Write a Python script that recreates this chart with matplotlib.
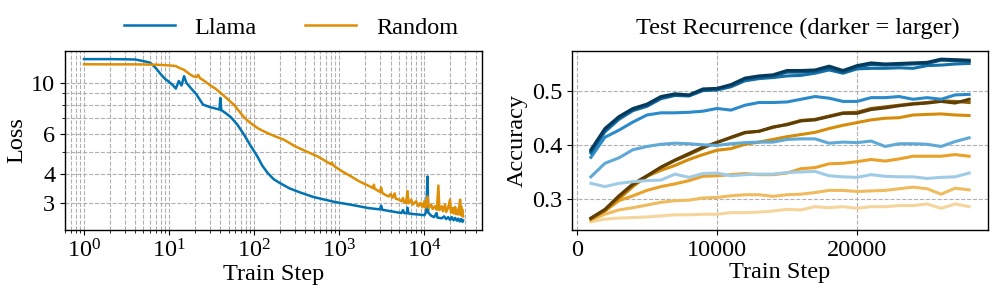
import matplotlib
matplotlib.use("Agg")
import matplotlib.pyplot as plt
from matplotlib.ticker import NullFormatter

plt.rcParams['font.family'] = ['Liberation Serif', 'DejaVu Serif']
plt.rcParams['mathtext.fontset'] = 'stix'
plt.rcParams['font.size'] = 17.5

# ---- left panel: training loss ----
llama_steps = [1, 2, 3, 4, 5, 6, 7, 8, 9, 10, 11, 12, 13, 14, 15, 16, 18, 21, 25, 30,
               34, 39, 40, 41, 47, 53, 63, 76, 90, 109, 125, 144, 170, 206, 260, 355,
               500, 877, 1400, 2177, 3000, 3100, 3200, 4000, 5374, 5600, 5800, 6200,
               6330, 6500, 7500, 8500, 9500, 10000, 10500, 10900, 11100, 12000, 13000,
               13900, 14200, 16000, 17000, 18000, 19000, 20000, 21000, 22000, 23000,
               24000, 25000, 26000, 27000, 28000, 28500]
llama_loss = [12.7, 12.7, 12.68, 12.65, 12.45, 12.25, 11.6, 10.9, 10.4, 10.1, 9.8, 9.45,
              10.2, 9.75, 10.7, 10.0, 9.5, 8.9, 8.05, 7.85, 7.76, 7.65, 8.6, 7.62, 7.35,
              7.1, 6.6, 5.95, 5.35, 4.78, 4.35, 4.05, 3.8, 3.64, 3.47, 3.32, 3.18, 3.03,
              2.94, 2.85, 2.81, 2.92, 2.8, 2.76, 2.71, 2.79, 2.71, 2.7, 2.86, 2.7, 2.68,
              2.67, 2.66, 2.65, 2.74, 3.91, 2.72, 2.64, 2.6, 2.71, 2.59, 2.57, 2.62, 2.55,
              2.6, 2.53, 2.6, 2.52, 2.58, 2.51, 2.56, 2.49, 2.55, 2.48, 2.52]

random_steps = [1, 2, 4, 6, 8, 10, 12, 13, 15, 17, 19, 21, 22, 23, 26, 30, 35, 40, 48,
                58, 70, 80, 91, 110, 131, 170, 225, 300, 400, 558, 700, 800, 820, 840,
                877, 1100, 1380, 1700, 2177, 2500, 2550, 2600, 3000, 3100, 3200, 3420,
                3800, 4000, 4200, 4480, 4600, 5000, 5374, 5600, 5800, 6100, 6330, 6500,
                7000, 7300, 8000, 8500, 9000, 9500, 10000, 10300, 10900, 11200, 12000,
                12500, 13300, 14000, 14600, 15000, 16000, 16500, 17500, 18000, 19000,
                20000, 20500, 21500, 22000, 23000, 23500, 24500, 25000, 26300, 26600,
                27000, 27500, 28000, 28500]
random_loss = [12.06, 12.05, 12.05, 12.02, 11.98, 11.92, 11.85, 11.65, 11.4, 11.0, 10.7,
               10.6, 10.85, 10.5, 10.2, 9.8, 9.45, 9.07, 8.55, 8.02, 7.35, 6.95, 6.68,
               6.35, 6.14, 5.88, 5.65, 5.3, 5.05, 4.78, 4.55, 4.42, 4.5, 4.4, 4.33, 4.1,
               3.91, 3.73, 3.57, 3.48, 3.6, 3.46, 3.35, 3.5, 3.32, 3.26, 3.2, 3.28, 3.16,
               3.3, 3.13, 3.1, 3.05, 3.15, 3.02, 3.0, 3.38, 2.99, 3.1, 2.95, 3.05, 2.9,
               3.0, 2.87, 3.05, 2.86, 3.2, 2.85, 2.95, 2.82, 2.9, 2.8, 3.57, 2.79, 2.9,
               2.76, 2.95, 2.74, 2.85, 3.1, 2.72, 2.85, 2.7, 2.88, 2.68, 2.8, 2.67, 3.1,
               2.66, 2.9, 2.64, 2.8, 2.62]

# ---- right panel: test accuracy per recurrence (light -> dark) ----
eval_steps = [1000 * i for i in range(1, 29)]

llama_acc = [
    [0.329, 0.323, 0.329, 0.332, 0.334, 0.335, 0.346, 0.340, 0.347, 0.348, 0.343, 0.345,
     0.346, 0.346, 0.349, 0.350, 0.351, 0.343, 0.341, 0.340, 0.345, 0.342, 0.341, 0.341,
     0.338, 0.340, 0.341, 0.348],
    [0.341, 0.366, 0.376, 0.391, 0.397, 0.401, 0.403, 0.402, 0.400, 0.399, 0.402, 0.404,
     0.405, 0.405, 0.410, 0.411, 0.411, 0.403, 0.405, 0.404, 0.407, 0.397, 0.402, 0.402,
     0.401, 0.397, 0.406, 0.413],
    [0.377, 0.414, 0.427, 0.442, 0.455, 0.459, 0.459, 0.460, 0.462, 0.467, 0.464, 0.473,
     0.478, 0.478, 0.479, 0.484, 0.489, 0.486, 0.480, 0.480, 0.487, 0.487, 0.489, 0.484,
     0.487, 0.484, 0.492, 0.493],
    [0.385, 0.424, 0.447, 0.463, 0.471, 0.485, 0.491, 0.490, 0.500, 0.501, 0.507, 0.518,
     0.522, 0.524, 0.527, 0.528, 0.532, 0.538, 0.532, 0.540, 0.541, 0.541, 0.542, 0.541,
     0.546, 0.547, 0.549, 0.550],
    [0.388, 0.428, 0.450, 0.465, 0.473, 0.487, 0.492, 0.491, 0.501, 0.503, 0.509, 0.521,
     0.525, 0.527, 0.534, 0.534, 0.536, 0.542, 0.534, 0.544, 0.548, 0.547, 0.548, 0.549,
     0.550, 0.556, 0.555, 0.554],
    [0.391, 0.430, 0.452, 0.467, 0.475, 0.489, 0.494, 0.492, 0.503, 0.504, 0.511, 0.523,
     0.527, 0.529, 0.537, 0.537, 0.538, 0.545, 0.537, 0.546, 0.551, 0.549, 0.550, 0.551,
     0.552, 0.558, 0.557, 0.556],
]

random_acc = [
    [0.258, 0.263, 0.265, 0.266, 0.267, 0.269, 0.271, 0.271, 0.272, 0.272, 0.275, 0.275,
     0.276, 0.278, 0.281, 0.280, 0.286, 0.284, 0.286, 0.283, 0.286, 0.286, 0.288, 0.288,
     0.291, 0.283, 0.291, 0.286],
    [0.261, 0.272, 0.280, 0.284, 0.289, 0.294, 0.297, 0.298, 0.302, 0.303, 0.306, 0.308,
     0.308, 0.305, 0.308, 0.309, 0.312, 0.316, 0.316, 0.314, 0.315, 0.316, 0.319, 0.322,
     0.319, 0.309, 0.320, 0.317],
    [0.263, 0.278, 0.297, 0.306, 0.316, 0.323, 0.328, 0.334, 0.342, 0.343, 0.345, 0.347,
     0.345, 0.345, 0.348, 0.356, 0.358, 0.365, 0.366, 0.369, 0.373, 0.370, 0.374, 0.379,
     0.379, 0.379, 0.382, 0.379],
    [0.263, 0.278, 0.300, 0.323, 0.342, 0.353, 0.362, 0.373, 0.382, 0.390, 0.393, 0.401,
     0.405, 0.410, 0.415, 0.419, 0.423, 0.430, 0.436, 0.441, 0.446, 0.449, 0.450, 0.455,
     0.456, 0.457, 0.455, 0.454],
    [0.264, 0.280, 0.304, 0.326, 0.342, 0.358, 0.371, 0.382, 0.394, 0.405, 0.413, 0.422,
     0.425, 0.432, 0.438, 0.445, 0.447, 0.453, 0.459, 0.460, 0.467, 0.470, 0.473, 0.476,
     0.478, 0.481, 0.480, 0.478],
    [0.265, 0.281, 0.306, 0.328, 0.343, 0.359, 0.372, 0.384, 0.396, 0.404, 0.414, 0.423,
     0.425, 0.433, 0.437, 0.444, 0.446, 0.452, 0.458, 0.458, 0.465, 0.468, 0.472, 0.475,
     0.477, 0.480, 0.477, 0.484],
]

blue_shades = ['#9fcbe6', '#5ea9d6', '#2b8ac9', '#1470a8', '#0b5786', '#063a5c']
orange_shades = ['#f6d59c', '#f0bb5f', '#e9a12a', '#d48c0a', '#8c5d08', '#5e3e05']

fig = plt.figure(figsize=(9.96, 2.99), dpi=100)
ax1 = fig.add_axes([0.0653, 0.2308, 0.4187, 0.5987])
ax2 = fig.add_axes([0.5743, 0.2308, 0.4177, 0.5987])

ax1.plot(llama_steps, llama_loss, color='#0173b2', lw=1.8, label='Llama')
ax1.plot(random_steps, random_loss, color='#de8f05', lw=1.8, label='Random')
ax1.set_xscale('log')
ax1.set_yscale('log')
ax1.set_yticks([3, 4, 6, 10])
ax1.set_yticklabels(['3', '4', '6', '10'])
ax1.yaxis.set_minor_formatter(NullFormatter())
ax1.grid(which='both', ls='--', color='#b0b0b0', lw=0.8)
ax1.set_xlabel('Train Step', labelpad=1)
ax1.set_ylabel('Loss', labelpad=3)
ax1.legend(loc='lower center', bbox_to_anchor=(0.542, 1.0), ncol=2, frameon=False,
           handlelength=2.1, columnspacing=2.0, borderaxespad=0.1)

for vals, c in zip(random_acc, orange_shades):
    ax2.plot(eval_steps, vals, color=c, lw=2.2)
for vals, c in zip(llama_acc, blue_shades):
    ax2.plot(eval_steps, vals, color=c, lw=2.2)
ax2.set_xticks([0, 10000, 20000])
ax2.set_yticks([0.3, 0.4, 0.5])
ax2.grid(ls='--', color='#b0b0b0', lw=0.8)
ax2.set_xlabel('Train Step', labelpad=1)
ax2.set_ylabel('Accuracy', labelpad=3)
ax2.set_title('Test Recurrence (darker = larger)', x=0.543, pad=12, fontsize=17.5)

for ax in (ax1, ax2):
    for s in ax.spines.values():
        s.set_linewidth(1.0)

fig.savefig('out.png', dpi=100)
